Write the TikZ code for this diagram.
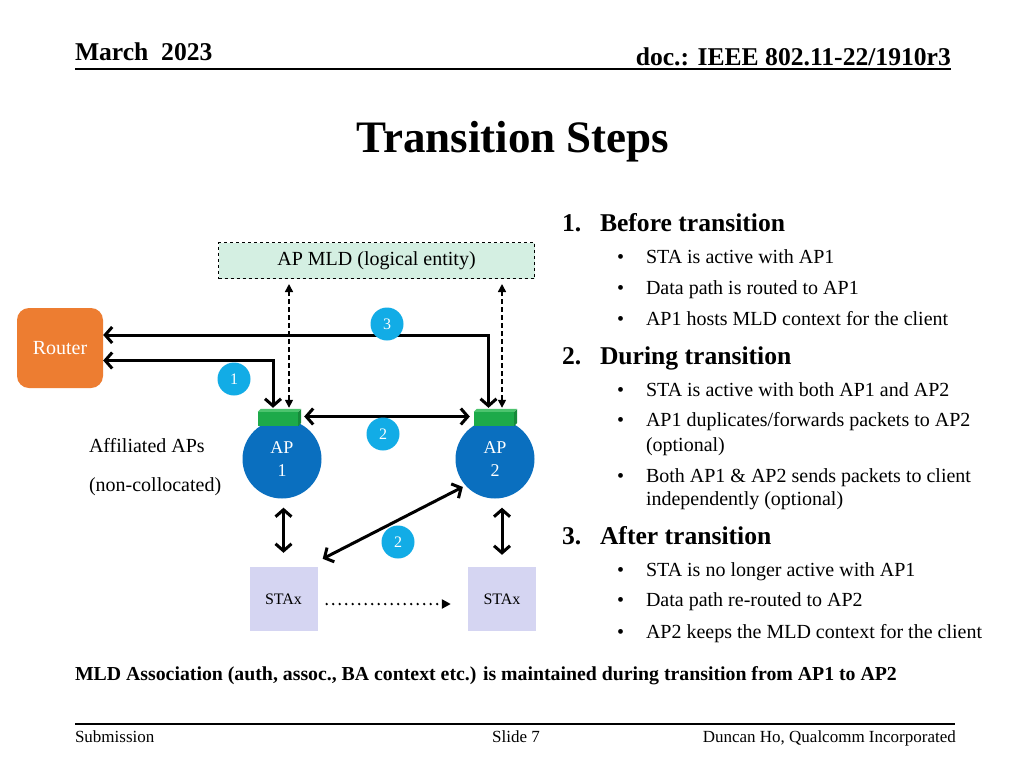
\documentclass[tikz,border=0pt]{standalone}
\usepackage{fontspec}
\setmainfont{Liberation Serif}
\usetikzlibrary{arrows.meta}
\definecolor{apblue}{HTML}{0A6FBF}
\definecolor{apgreen}{HTML}{1DAA4A}
\definecolor{apgreenlt}{HTML}{4CC46E}
\definecolor{apgreendk}{HTML}{168A3A}
\definecolor{badge}{HTML}{12ACE6}
\definecolor{routerorange}{HTML}{ED7D31}
\definecolor{mldfill}{HTML}{D4EFE2}
\definecolor{stafill}{HTML}{D5D5F2}
\newcommand{\fs}[1]{\fontsize{#1}{#1}\selectfont}
\tikzset{
  txt/.style={anchor=base west, inner sep=0pt, outer sep=0pt},
  bigarrow/.style={line width=3pt, {Straight Barb[length=7pt,width=16pt]}-{Straight Barb[length=7pt,width=16pt]}},
  dasharrow/.style={line width=1.5pt, dash pattern=on 5pt off 3pt, {Triangle[length=8pt,width=8pt]}-{Triangle[length=8pt,width=8pt]}},
  dotarrow/.style={line width=2.6pt, line cap=round, dash pattern=on 0pt off 6.5pt, -{Triangle[length=9pt,width=9pt,line cap=butt]}},
  apcircle/.style={circle, fill=apblue, minimum size=79pt, inner sep=0pt, text=white, font=\fs{18}, align=center},
  greenbox/.style={rectangle, fill=apgreen, minimum width=40pt, minimum height=14pt, inner sep=0pt},
  badgecircle/.style={circle, fill=badge, minimum size=33pt, inner sep=0pt, text=white, font=\fs{16}},
  stabox/.style={rectangle, fill=stafill, minimum width=68pt, minimum height=64pt, inner sep=0pt, font=\fs{16}},
}
\begin{document}
\begin{tikzpicture}[x=1pt,y=-1pt]
\useasboundingbox[fill=white] (0,0) rectangle (1024,768);
% header
\node[txt, font=\bfseries\fs{25.6}] (date) at (75,60) {March\ \ 2023};
\node[anchor=base east, inner sep=0pt, font=\bfseries\fs{25.6}] (doc) at (951,66) {doc.: IEEE 802.11-22/1910r3};
\coordinate (hl) at (75,69);
\coordinate (hr) at (951,69);
\draw[line width=2pt] (hl) -- (hr);
% title
\node[anchor=base, inner sep=0pt, font=\bfseries\fs{45}] (title) at (513,152) {Transition Steps};
% MLD box
\node[draw, dashed, line width=1pt, fill=mldfill, minimum width=316pt, minimum height=36pt, inner sep=0pt, font=\fs{20}] (mld) at (376.5,260.5) {AP MLD (logical entity)};
% router
\node[fill=routerorange, rounded corners=12pt, minimum width=86pt, minimum height=80pt, inner sep=0pt, text=white, font=\fs{20}] (router) at (60,348) {Router};
% APs
\node[apcircle] (ap1) at (282,459) {AP\\[5pt]1};
\node[apcircle] (ap2) at (495,459) {AP\\[5pt]2};
\node[greenbox] (g1) at (278,419) {};
\node[greenbox] (g2) at (494,419) {};
\fill[apgreenlt] (g1.north west) -- ++(3,-3) -- ++(40,0) -- (g1.north east) -- cycle;
\fill[apgreendk] (g1.north east) -- ++(3,-3) -- ++(0,14) -- (g1.south east) -- cycle;
\fill[apgreenlt] (g2.north west) -- ++(3,-3) -- ++(40,0) -- (g2.north east) -- cycle;
\fill[apgreendk] (g2.north east) -- ++(3,-3) -- ++(0,14) -- (g2.south east) -- cycle;
% STAs
\node[stabox] (sta1) at (283.5,599) {STAx};
\node[stabox] (sta2) at (502,599) {STAx};
% labels
\node[txt, font=\fs{20}] (aff) at (89,452) {Affiliated APs};
\node[txt, font=\fs{20}] (nonc) at (89,491) {(non-collocated)};
% connectors
\coordinate (k1) at (273,360.5);
\coordinate (k3) at (488.5,335);
\draw[bigarrow, line join=miter] (router.east |- k1) -- (k1) -- ([yshift=4pt]k1 |- g1.north);
\draw[bigarrow, line join=miter] (router.east |- k3) -- (k3) -- ([yshift=4pt]k3 |- g2.north);
\draw[dasharrow] ([xshift=11pt,yshift=4pt]g1.north) -- ([xshift=11pt,yshift=-5pt]g1.north |- mld.south);
\draw[dasharrow] ([xshift=8pt,yshift=4pt]g2.north) -- ([xshift=8pt,yshift=-5pt]g2.north |- mld.south);
\draw[bigarrow] ([xshift=6pt,yshift=2.5pt]g1.east) -- ([xshift=-4pt,yshift=2.5pt]g2.west);
\draw[bigarrow] (sta1.north |- ap1.south) ++(0,9) -- ([yshift=14pt]sta1.north);
\draw[bigarrow] (sta2.north |- ap2.south) ++(0,9) -- ([yshift=12pt]sta2.north);
\draw[bigarrow, shorten >=3pt] ([shift={(5pt,8pt)}]sta1.north east) -- (ap2.222);
\draw[dotarrow] ([xshift=9pt,yshift=-5pt]sta1.east) -- ([xshift=-17pt,yshift=-5pt]sta2.west);
% badges
\node[badgecircle] (b3) at (387,324) {3};
\node[badgecircle] (b1) at (234,379) {1};
\node[badgecircle] (b2a) at (383,434) {2};
\node[badgecircle] (b2b) at (398,542) {2};
% right text
\node[txt, font=\bfseries\fs{25.6}] (n1) at (562,231.5) {1.};
\node[txt, font=\bfseries\fs{25.6}] (h1) at (600,231.5) {Before transition};
\node[txt, font=\fs{20}] (d11) at (617,263.5) {•};
\node[txt, font=\fs{20}] (t11) at (646,263.5) {STA is active with AP1};
\node[txt, font=\fs{20}] (d12) at (617,294.5) {•};
\node[txt, font=\fs{20}] (t12) at (646,294.5) {Data path is routed to AP1};
\node[txt, font=\fs{20}] (d13) at (617,325.5) {•};
\node[txt, font=\fs{20}] (t13) at (646,325.5) {AP1 hosts MLD context for the client};
\node[txt, font=\bfseries\fs{25.6}] (n2) at (562,364.5) {2.};
\node[txt, font=\bfseries\fs{25.6}] (h2) at (600,364.5) {During transition};
\node[txt, font=\fs{20}] (d21) at (617,396.5) {•};
\node[txt, font=\fs{20}] (t21) at (646,396.5) {STA is active with both AP1 and AP2};
\node[txt, font=\fs{20}] (d22) at (617,426.5) {•};
\node[txt, font=\fs{20}] (t22) at (646,426.5) {AP1 duplicates/forwards packets to AP2};
\node[txt, font=\fs{20}] (t22b) at (646,451.5) {(optional)};
\node[txt, font=\fs{20}] (d23) at (617,482.5) {•};
\node[txt, font=\fs{20}] (t23) at (646,482.5) {Both AP1 \& AP2 sends packets to client};
\node[txt, font=\fs{20}] (t23b) at (646,505.5) {independently (optional)};
\node[txt, font=\bfseries\fs{25.6}] (n3) at (562,544.5) {3.};
\node[txt, font=\bfseries\fs{25.6}] (h3) at (600,544.5) {After transition};
\node[txt, font=\fs{20}] (d31) at (617,576.5) {•};
\node[txt, font=\fs{20}] (t31) at (646,576.5) {STA is no longer active with AP1};
\node[txt, font=\fs{20}] (d32) at (617,606.5) {•};
\node[txt, font=\fs{20}] (t32) at (646,606.5) {Data path re-routed to AP2};
\node[txt, font=\fs{20}] (d33) at (617,638.5) {•};
\node[txt, font=\fs{20}] (t33) at (646,638.5) {AP2 keeps the MLD context for the client};
% bottom note
\node[txt, font=\bfseries\fs{19.8}] (note) at (75,680.5) {MLD Association (auth, assoc., BA context etc.) is maintained during transition from AP1 to AP2};
% footer
\coordinate (fl) at (75,724);
\coordinate (fr) at (955,724);
\draw[line width=1.5pt] (fl) -- (fr);
\node[txt, font=\fs{17}] (sub) at (75,742.5) {Submission};
\node[anchor=base, inner sep=0pt, font=\fs{17}] (slide) at (516,742.5) {Slide 7};
\node[anchor=base east, inner sep=0pt, font=\fs{17}] (auth) at (956,742.5) {Duncan Ho, Qualcomm Incorporated};
\end{tikzpicture}
\end{document}
